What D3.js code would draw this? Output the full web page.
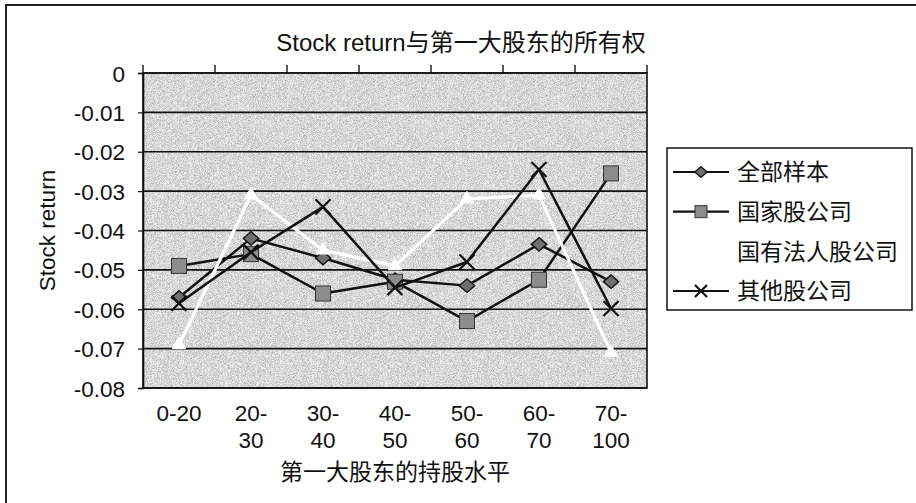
<!DOCTYPE html>
<html>
<head>
<meta charset="utf-8">
<script src="https://cdn.jsdelivr.net/npm/d3@7"></script>
<style>
  html, body { margin: 0; padding: 0; background: #fff; }
  svg { display: block; }
  text { font-family: "Liberation Sans", Arial, "Noto Sans CJK SC", sans-serif; fill: #111; }
</style>
</head>
<body>
<svg id="chart" width="916" height="503"></svg>
<script>
// Holding-level groups of the largest shareholder
const categories = ["0-20", "20-30", "30-40", "40-50", "50-60", "60-70", "70-100"];
const categoryLabelLines = [["0-20"], ["20-", "30"], ["30-", "40"], ["40-", "50"], ["50-", "60"], ["60-", "70"], ["70-", "100"]];

// Stock return by ownership type
const seriesNames = ["全部样本", "国家股公司", "国有法人股公司", "其他股公司"];
const allSample   = [-0.057, -0.042, -0.047, -0.0525, -0.054, -0.0435, -0.053];
const stateShare  = [-0.049, -0.046, -0.056, -0.053, -0.063, -0.0525, -0.0255];
const legalPerson = [-0.069, -0.031, -0.045, -0.049, -0.032, -0.031, -0.071];
const otherShare  = [-0.0585, -0.0455, -0.034, -0.0545, -0.048, -0.0245, -0.0598];

const yTickValues = [0, -0.01, -0.02, -0.03, -0.04, -0.05, -0.06, -0.07, -0.08];
const yTickLabels = ["0", "-0.01", "-0.02", "-0.03", "-0.04", "-0.05", "-0.06", "-0.07", "-0.08"];

const titleText = "Stock return与第一大股东的所有权";
const yTitleText = "Stock return";
const xTitleText = "第一大股东的持股水平";

const svg = d3.select("#chart");

const plot = { left: 143, right: 647, top: 73, bottom: 388 };

const x = d3.scaleBand().domain(categories).range([plot.left, plot.right]).padding(0);
const y = d3.scaleLinear().domain([-0.08, 0]).range([plot.bottom, plot.top]);
const cx = c => x(c) + x.bandwidth() / 2;

// grainy grey fill for the plot area
const defs = svg.append("defs");
const grain = defs.append("filter")
  .attr("id", "grain")
  .attr("x", 0).attr("y", 0).attr("width", "100%").attr("height", "100%")
  .attr("color-interpolation-filters", "sRGB");
grain.append("feTurbulence")
  .attr("type", "fractalNoise").attr("baseFrequency", 1.6)
  .attr("numOctaves", 1).attr("seed", 7).attr("result", "noise");
grain.append("feColorMatrix")
  .attr("in", "noise").attr("type", "matrix")
  .attr("values", "0.33 0.33 0.33 0 0  0.33 0.33 0.33 0 0  0.33 0.33 0.33 0 0  0 0 0 0 1")
  .attr("result", "gray");
const tone = grain.append("feComponentTransfer").attr("in", "gray").attr("result", "tone");
["feFuncR", "feFuncG", "feFuncB"].forEach(f =>
  tone.append(f).attr("type", "linear").attr("slope", 1.0).attr("intercept", 0.35));
grain.append("feComposite").attr("in", "tone").attr("in2", "SourceGraphic").attr("operator", "in");

// outer frame (top and left edges)
svg.append("path")
  .attr("d", "M6,503 V5 H916")
  .attr("fill", "none").attr("stroke", "#222").attr("stroke-width", 2);

// title
svg.append("text")
  .attr("x", 461).attr("y", 51)
  .attr("text-anchor", "middle")
  .style("font-size", "24px")
  .text(titleText);

// plot background
svg.append("rect")
  .attr("x", plot.left).attr("y", plot.top)
  .attr("width", plot.right - plot.left).attr("height", plot.bottom - plot.top)
  .attr("fill", "#c4c4c4")
  .attr("filter", "url(#grain)");

// horizontal gridlines
svg.append("g").selectAll("line")
  .data(yTickValues)
  .join("line")
  .attr("x1", plot.left).attr("x2", plot.right)
  .attr("y1", d => y(d)).attr("y2", d => y(d))
  .attr("stroke", "#111").attr("stroke-width", 1.6);

// plot border
svg.append("rect")
  .attr("x", plot.left).attr("y", plot.top)
  .attr("width", plot.right - plot.left).attr("height", plot.bottom - plot.top)
  .attr("fill", "none").attr("stroke", "#111").attr("stroke-width", 1.6);

// value axis
const yAxis = svg.append("g")
  .attr("transform", `translate(${plot.left},0)`)
  .call(d3.axisLeft(y).tickValues(yTickValues)
    .tickFormat((d, i) => yTickLabels[i]).tickSize(5).tickPadding(13));
yAxis.select(".domain").attr("stroke", "#111").attr("stroke-width", 1.6);
yAxis.selectAll(".tick line").attr("stroke", "#111").attr("stroke-width", 1.2);
yAxis.selectAll(".tick text")
  .style("font-size", "22.5px")
  .style("font-family", "\"Liberation Sans\", Arial, sans-serif")
  .attr("fill", "#111")
  .attr("dy", "0.36em");

// category tick marks along the top edge, between groups
const boundaries = categories.map(c => x(c)).concat([x(categories[categories.length - 1]) + x.bandwidth()]);
svg.append("g").selectAll("line")
  .data(boundaries)
  .join("line")
  .attr("x1", d => d).attr("x2", d => d)
  .attr("y1", plot.top).attr("y2", plot.top - 8)
  .attr("stroke", "#111").attr("stroke-width", 1.4);

// category labels (wrapped on two lines)
const xLab = svg.append("g").selectAll("text")
  .data(categories)
  .join("text")
  .attr("text-anchor", "middle")
  .style("font-size", "22.5px")
  .attr("x", d => cx(d))
  .attr("y", 421);
xLab.each(function(d, i) {
  const t = d3.select(this);
  categoryLabelLines[i].forEach((line, k) => {
    t.append("tspan").attr("x", cx(d)).attr("dy", k === 0 ? 0 : 27).text(line);
  });
});

// axis titles
svg.append("text")
  .attr("x", (plot.left + plot.right) / 2).attr("y", 480)
  .attr("text-anchor", "middle")
  .style("font-size", "23px")
  .text(xTitleText);

svg.append("text")
  .attr("transform", `translate(55,${(plot.top + plot.bottom) / 2}) rotate(-90)`)
  .attr("text-anchor", "middle")
  .style("font-size", "22.5px")
  .text(yTitleText);

// series styles
const series = [
  { name: seriesNames[0], values: allSample,   line: "#111", width: 2.5, marker: "diamond" },
  { name: seriesNames[1], values: stateShare,  line: "#111", width: 2.5, marker: "square" },
  { name: seriesNames[2], values: legalPerson, line: "#fff", width: 3.2, marker: "triangle" },
  { name: seriesNames[3], values: otherShare,  line: "#111", width: 2.5, marker: "cross" }
];

const lineGen = d3.line().x((d, i) => cx(categories[i])).y(d => y(d));

function drawMarker(g, type, px, py, k = 1) {
  if (type === "diamond") {
    g.append("path")
      .attr("d", d3.symbol().type(d3.symbolDiamond2).size(115 * k * k)())
      .attr("transform", `translate(${px},${py}) scale(1.15,1)`)
      .attr("fill", "#6f6f6f").attr("stroke", "#111").attr("stroke-width", 1.3);
  } else if (type === "square") {
    const s = 15 * k;
    g.append("rect")
      .attr("x", px - s / 2).attr("y", py - s / 2).attr("width", s).attr("height", s)
      .attr("fill", "#8c8c8c").attr("stroke", "#333").attr("stroke-width", 1);
  } else if (type === "triangle") {
    g.append("path")
      .attr("d", d3.symbol().type(d3.symbolTriangle2).size(125 * k * k)())
      .attr("transform", `translate(${px},${py})`)
      .attr("fill", "#fff").attr("stroke", "#fff").attr("stroke-width", 1);
  } else if (type === "cross") {
    g.append("path")
      .attr("d", d3.symbol().type(d3.symbolTimes).size(150 * k * k)())
      .attr("transform", `translate(${px},${py})`)
      .attr("fill", "none").attr("stroke", "#111").attr("stroke-width", 2.2);
  }
}

const seriesG = svg.append("g");
series.forEach(s => {
  const g = seriesG.append("g");
  g.append("path")
    .attr("d", lineGen(s.values))
    .attr("fill", "none")
    .attr("stroke", s.line)
    .attr("stroke-width", s.width)
    .attr("stroke-linejoin", "round");
  s.values.forEach((v, i) => drawMarker(g, s.marker, cx(categories[i]), y(v)));
});

// legend
const legend = svg.append("g");
legend.append("rect")
  .attr("x", 667).attr("y", 148).attr("width", 245).attr("height", 162)
  .attr("fill", "#fff").attr("stroke", "#111").attr("stroke-width", 1.5);

const legendRows = d3.scaleLinear().domain([0, 3]).range([172, 291]);
series.forEach((s, i) => {
  const ly = legendRows(i);
  const g = legend.append("g");
  g.append("line")
    .attr("x1", 673).attr("x2", 729).attr("y1", ly).attr("y2", ly)
    .attr("stroke", s.line).attr("stroke-width", 2.2);
  drawMarker(g, s.marker, 701, ly, 0.8);
  g.append("text")
    .attr("x", 737).attr("y", ly)
    .attr("dy", "0.36em")
    .style("font-size", "23px")
    .text(s.name);
});
</script>
</body>
</html>
